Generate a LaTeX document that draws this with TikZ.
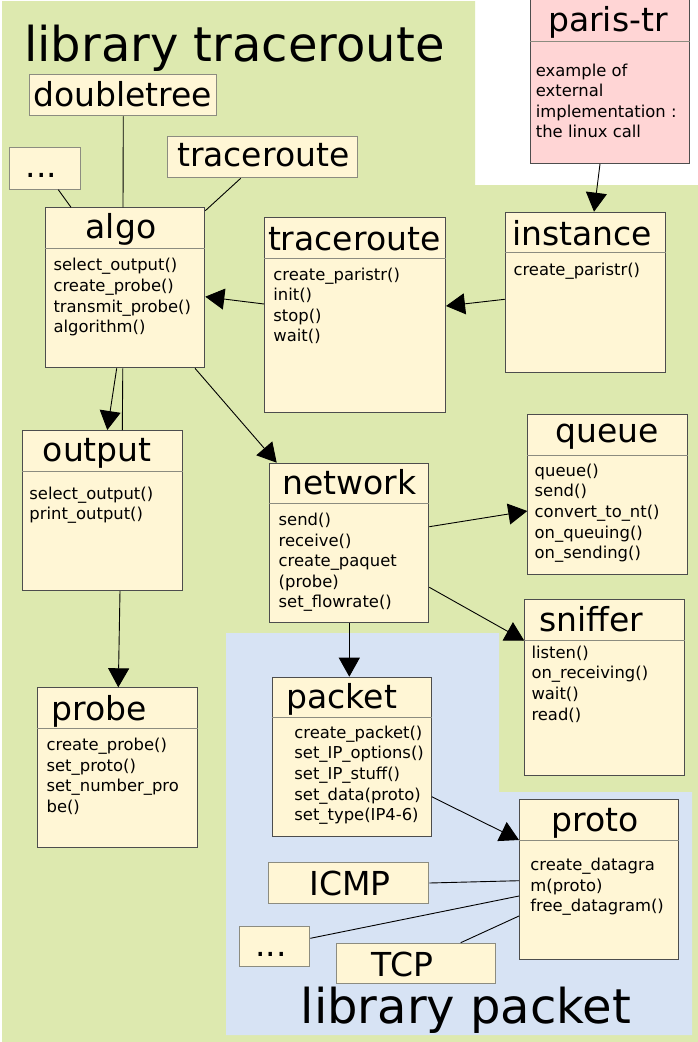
\documentclass[tikz,border=0pt]{standalone}
\usepackage{fontspec}
\setmainfont{DejaVu Sans}
\usetikzlibrary{arrows.meta,calc}
\definecolor{libgreen}{HTML}{DDE9AF}
\definecolor{libblue}{HTML}{D7E3F4}
\definecolor{cream}{HTML}{FFF6D5}
\definecolor{pinkbox}{HTML}{FFD5D5}
\definecolor{boxline}{HTML}{4D4D4D}
\definecolor{sepline}{HTML}{8C8C80}
\definecolor{lblline}{HTML}{8C8C80}
\newcommand\methlines[4]{\foreach \t [count=\i] in {#4}{\node[meth] (#1-\i) at ({#2},{#3+20.6*(\i-1)}) {\t};}}
\begin{document}
\begin{tikzpicture}[x=1pt,y=-1pt,
  classbox/.style={draw=boxline, line width=1pt, fill=cream, anchor=north west, inner sep=0pt},
  lblbox/.style={draw=lblline, line width=1pt, fill=cream, anchor=north west, inner sep=0pt},
  sepl/.style={draw=sepline, line width=1pt},
  hdr/.style={font=\fontsize{33}{36}\selectfont, anchor=base, inner sep=0pt},
  meth/.style={font=\fontsize{16.4}{20}\selectfont, anchor=base west, inner sep=0pt},
  big/.style={font=\fontsize{48}{52}\selectfont, anchor=base, inner sep=0pt},
  ln/.style={draw=black, line width=0.9pt},
  arr/.style={draw=black, line width=0.9pt, -{Triangle[length=19pt,width=21pt]}}]
\useasboundingbox (0,0) rectangle (698,1042);
\fill[white] (0,0) rectangle (698,1042);
% library regions
\fill[libgreen] (2,1) -- (475,1) -- (475,185) -- (698,185) -- (698,1042) -- (2,1042) -- cycle;
\fill[libblue] (226,633) -- (499,633) -- (499,792) -- (692,792) -- (692,1035) -- (226,1035) -- cycle;
\node[big] (libtr) at (234.5,61) {library traceroute};
\node[big] (libpk) at (466,1023) {library packet};

% label boxes
\node[lblbox, minimum width=187pt, minimum height=41pt] (doubletree) at (29.3,74.3) {};
\node[hdr] (doubletree-t) at (122.8,106.7) {doubletree};
\node[lblbox, minimum width=70.7pt, minimum height=41.7pt] (dotsA) at (9.3,147) {};
\node[hdr] (dotsA-t) at (41.7,177) {...};
\node[lblbox, minimum width=189.4pt, minimum height=41.3pt] (trlabel) at (167.3,136) {};
\node[hdr] (trlabel-t) at (263.3,166.7) {traceroute};
\node[lblbox, minimum width=160pt, minimum height=41pt] (ICMP) at (268.3,862) {};
\node[hdr] (ICMP-t) at (350,895) {ICMP};
\node[lblbox, minimum width=70pt, minimum height=40.3pt] (dotsB) at (239.3,925.7) {};
\node[hdr] (dotsB-t) at (271,956.7) {...};
\node[lblbox, minimum width=159.3pt, minimum height=40.6pt] (TCP) at (335.7,942.7) {};
\node[hdr] (TCP-t) at (402.5,976.7) {TCP};

% paris-tr
\node[classbox, fill=pinkbox, minimum width=159.3pt, minimum height=164pt] (paris) at (530,-1) {};
\draw[sepl] ($(paris.north west)+(0,42.7)$) -- ($(paris.north east)+(0,42.7)$);
\node[hdr] (paris-t) at (608,31.7) {paris-tr};
\methlines{paris}{535.7}{76}{example of,external,implementation :,the linux call}

% algo
\node[classbox, minimum width=159.8pt, minimum height=160pt] (algo) at (44.5,207.3) {};
\draw[sepl] ($(algo.north west)+(0,41.4)$) -- ($(algo.north east)+(0,41.4)$);
\node[hdr] (algo-t) at (121,238) {algo};
\methlines{algo}{53.3}{270.8}{select\_output(),create\_probe(),transmit\_probe(),algorithm()}

% traceroute class
\node[classbox, minimum width=181pt, minimum height=194.7pt] (trclass) at (264,217.3) {};
\draw[sepl] ($(trclass.north west)+(0,41)$) -- ($(trclass.north east)+(0,41)$);
\node[hdr] (trclass-t) at (354.2,250) {traceroute};
\methlines{trclass}{273.2}{280}{create\_paristr(),init(),stop(),wait()}

% instance
\node[classbox, minimum width=160pt, minimum height=160pt] (instance) at (504.7,211.7) {};
\draw[sepl] ($(instance.north west)+(0,40.6)$) -- ($(instance.north east)+(0,40.6)$);
\node[hdr] (instance-t) at (582.2,245) {instance};
\methlines{instance}{513.3}{275}{create\_paristr()}

% output
\node[classbox, minimum width=159.4pt, minimum height=160pt] (output) at (22.3,430) {};
\draw[sepl] ($(output.north west)+(0,41.3)$) -- ($(output.north east)+(0,41.3)$);
\node[hdr] (output-t) at (97.3,461.7) {output};
\methlines{output}{29.2}{499}{select\_output(),print\_output()}

% network
\node[classbox, minimum width=159.6pt, minimum height=159.3pt] (network) at (268.7,462.7) {};
\draw[sepl] ($(network.north west)+(0,40.6)$) -- ($(network.north east)+(0,40.6)$);
\node[hdr] (network-t) at (349.2,494) {network};
\methlines{network}{278.5}{525.5}{send(),receive(),create\_paquet,{(probe)},set\_flowrate()}

% queue
\node[classbox, minimum width=159.4pt, minimum height=159.7pt] (queue) at (527.3,414.3) {};
\draw[sepl] ($(queue.north west)+(0,41)$) -- ($(queue.north east)+(0,41)$);
\node[hdr] (queue-t) at (607.3,442.7) {queue};
\methlines{queue}{534.5}{476.3}{queue(),send(),convert\_to\_nt(),on\_queuing(),on\_sending()}

% sniffer
\node[classbox, minimum width=160pt, minimum height=175.7pt] (sniffer) at (524.3,599.3) {};
\draw[sepl] ($(sniffer.north west)+(0,40.7)$) -- ($(sniffer.north east)+(0,40.7)$);
\node[hdr] (sniffer-t) at (591,631.7) {sniffer};
\methlines{sniffer}{531.3}{658.3}{listen(),on\_receiving(),wait(),read()}

% probe
\node[classbox, minimum width=160pt, minimum height=160pt] (probe) at (37.3,687.3) {};
\draw[sepl] ($(probe.north west)+(0,41.4)$) -- ($(probe.north east)+(0,41.4)$);
\node[hdr] (probe-t) at (99.5,720.7) {probe};
\methlines{probe}{46.4}{750.7}{create\_probe(),set\_proto(),set\_number\_pro,be()}

% packet
\node[classbox, minimum width=159pt, minimum height=159.3pt] (packet) at (271.7,676.7) {};
\draw[sepl] ($(packet.north west)+(0,40.6)$) -- ($(packet.north east)+(0,40.6)$);
\node[hdr] (packet-t) at (341.7,708) {packet};
\methlines{packet}{294.2}{738.3}{create\_packet(),set\_IP\_options(),set\_IP\_stuff(),set\_data(proto),set\_type(IP4-6)}

% proto
\node[classbox, minimum width=159.3pt, minimum height=159.7pt] (proto) at (519,799.3) {};
\draw[sepl] ($(proto.north west)+(0,41.4)$) -- ($(proto.north east)+(0,41.4)$);
\node[hdr] (proto-t) at (595,831.7) {proto};
\methlines{proto}{530.2}{870.7}{create\_datagra,m(proto),free\_datagram()}

% connectors
\draw[ln] ($(doubletree.south west)+(94,0)$) -- ($(algo.north west)+(78.5,0)$);
\draw[ln] ($(algo.south west)+(78.3,0)$) -- ($(output.north west)+(100,0)$);
\draw[ln] ($(dotsA.south west)+(49,0)$) -- ($(algo.north west)+(26.5,0)$);
\draw[ln] ($(trlabel.south west)+(73.4,0)$) -- ($(algo.north east)+(0,3.4)$);
\draw[arr] ($(paris.south west)+(70,0)$) -- ($(instance.north west)+(89.3,0)$);
\draw[arr] ($(instance.north west)+(0,87.6)$) -- ($(trclass.north east)+(0,88.7)$);
\draw[arr] ($(trclass.north west)+(0,86.7)$) -- ($(algo.north east)+(0,89.4)$);
\draw[arr] ($(algo.south west)+(72.2,0)$) -- ($(output.north west)+(85,0)$);
\draw[arr] ($(algo.south west)+(150.5,0)$) -- ($(network.north west)+(8,0)$);
\draw[arr] ($(output.south west)+(97.7,0)$) -- ($(probe.north west)+(81,0)$);
\draw[arr] ($(network.south west)+(80.6,0)$) -- ($(packet.north west)+(77.6,0)$);
\draw[arr] ($(network.north east)+(0,64)$) -- ($(queue.north west)+(0,96.7)$);
\draw[arr] ($(network.north east)+(0,124.6)$) -- ($(sniffer.north west)+(0,41.4)$);
\draw[arr] ($(packet.north east)+(0,120)$) -- ($(proto.north west)+(0,40.7)$);
\draw[ln] (ICMP.east) -- ($(proto.north west)+(0,81.4)$);
\draw[ln] ($(dotsB.north east)+(0,12.6)$) -- ($(proto.north west)+(0,96.7)$);
\draw[ln] ($(TCP.north west)+(125,0)$) -- ($(proto.north west)+(0,116.7)$);
\end{tikzpicture}
\end{document}
